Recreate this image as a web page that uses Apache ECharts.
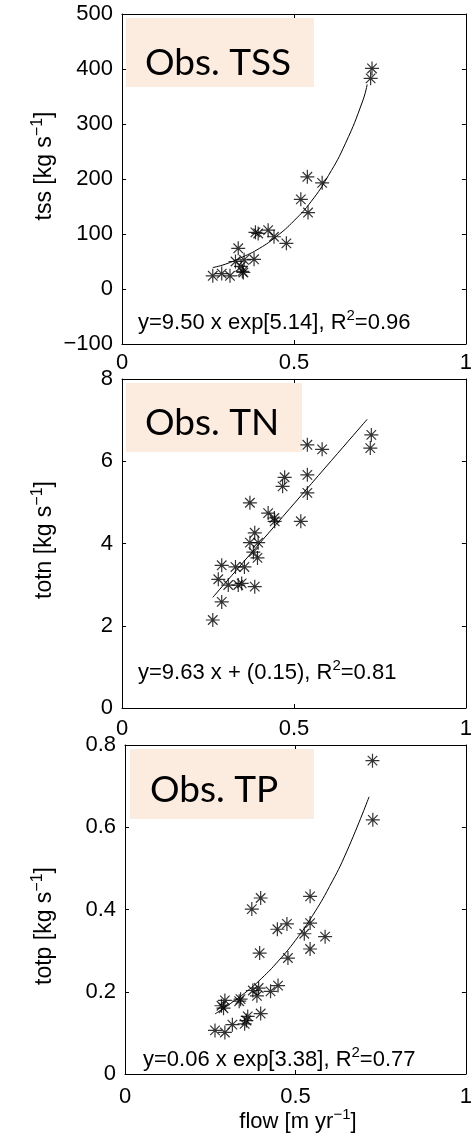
<!DOCTYPE html>
<html>
<head>
<meta charset="utf-8">
<script src="https://cdn.jsdelivr.net/npm/echarts@6/dist/echarts.min.js"></script>
<style>
html,body{margin:0;padding:0;background:#fff;}
#c{width:475px;height:1141px;}
</style>
</head>
<body>
<div id="c"></div>
<script>
// ---- data ----
const xTicks = [0, 0.5, 1];

const tssFlow = [0.727,0.723,0.539,0.582,0.520,0.541,0.388,0.396,0.425,0.442,0.478,0.338,0.330,0.355,0.384,0.346,0.353,0.350,0.264,0.290,0.314];
const tssLoad = [401,383,204,193,163,139,103,101,107,95,83,74,50,53,54,41,30,32,24,28,24];
const tssFitFlow = [0.264,0.30,0.35,0.40,0.45,0.50,0.55,0.60,0.65,0.70,0.713];
const tssFitLoad = [39,45,58,74,96,124,159,206,265,342,372];

const tnFlow = [0.725,0.722,0.539,0.582,0.539,0.473,0.467,0.539,0.372,0.425,0.443,0.444,0.520,0.386,0.372,0.396,0.382,0.394,0.290,0.330,0.356,0.280,0.309,0.338,0.348,0.386,0.290,0.264];
const tnLoad = [6.64,6.32,6.40,6.29,5.67,5.61,5.39,5.23,4.99,4.74,4.62,4.54,4.54,4.26,4.02,4.02,3.79,3.65,3.47,3.43,3.43,3.13,2.99,2.99,3.03,2.95,2.58,2.14];
const tnFitFlow = [0.264,0.713];
const tnFitLoad = [2.69,7.02];

const tpFlow = [0.726,0.727,0.398,0.372,0.543,0.543,0.475,0.447,0.526,0.587,0.543,0.395,0.478,0.449,0.427,0.392,0.375,0.387,0.339,0.335,0.293,0.283,0.289,0.398,0.360,0.356,0.351,0.315,0.264,0.293];
const tpLoad = [0.762,0.618,0.428,0.401,0.432,0.367,0.365,0.352,0.341,0.334,0.304,0.294,0.282,0.215,0.201,0.209,0.203,0.190,0.182,0.177,0.179,0.166,0.160,0.147,0.140,0.130,0.122,0.120,0.106,0.101];
const tpFitFlow = [0.264,0.30,0.35,0.40,0.45,0.50,0.55,0.60,0.65,0.716];
const tpFitLoad = [0.146,0.166,0.196,0.232,0.275,0.325,0.385,0.456,0.540,0.674];

const panelTitles = ['Obs. TSS', 'Obs. TN', 'Obs. TP'];
const yNames = ['tss', 'totn', 'totp'];
const equations = [
  ['y=9.50 x exp[5.14], R', '2', '=0.96'],
  ['y=9.63 x + (0.15), R', '2', '=0.81'],
  ['y=0.06 x exp[3.38], R', '2', '=0.77']
];
const yRanges = [[-100, 500, 100], [0, 8, 2], [0, 0.8, 0.2]];

// ---- chart ----
const zip = (a, b) => a.map((v, i) => [v, b[i]]);
const grids = [
  {left: 122, top: 14, width: 346, height: 330},
  {left: 122, top: 379, width: 346, height: 329},
  {left: 125, top: 745, width: 347, height: 329}
];
const labelMargins = [8, 10, 12];
const FONT = '"Liberation Sans", Arial, sans-serif';
const fmt = v => String(+(+v).toFixed(3)).replace('-', '\u2212');

const xAxis = [], yAxis = [], series = [];
grids.forEach((g, i) => {
  const common = () => ({
    axisLine: {show: true, onZero: false, lineStyle: {color: '#000', width: 1}},
    axisTick: {show: true, inside: true, length: 4, lineStyle: {color: '#000'}},
    splitLine: {show: false}
  });
  xAxis.push(Object.assign({gridIndex: i, type: 'value', min: 0, max: 1, interval: 0.5, position: 'bottom',
    axisLabel: {show: true, margin: labelMargins[i], color: '#000', fontSize: 22, fontFamily: FONT, formatter: fmt}}, common()));
  xAxis.push(Object.assign({gridIndex: i, type: 'value', min: 0, max: 1, interval: 0.5, position: 'top',
    axisLabel: {show: false}}, common()));
  const r = yRanges[i];
  yAxis.push(Object.assign({gridIndex: i, type: 'value', min: r[0], max: r[1], interval: r[2], position: 'left',
    axisLabel: {show: true, margin: 9, color: '#000', fontSize: 22, fontFamily: FONT, formatter: fmt}}, common()));
  yAxis.push(Object.assign({gridIndex: i, type: 'value', min: r[0], max: r[1], interval: r[2], position: 'right',
    axisLabel: {show: false}}, common()));
});

const star = 'path://M0,5L10,5M5,0L5,10M1.6,1.6L8.4,8.4M8.4,1.6L1.6,8.4';
const pts = [zip(tssFlow, tssLoad), zip(tnFlow, tnLoad), zip(tpFlow, tpLoad)];
const fits = [zip(tssFitFlow, tssFitLoad), zip(tnFitFlow, tnFitLoad), zip(tpFitFlow, tpFitLoad)];
for (let i = 0; i < 3; i++) {
  series.push({type: 'line', xAxisIndex: 2 * i, yAxisIndex: 2 * i, data: fits[i], smooth: true,
    showSymbol: false, lineStyle: {color: '#000', width: 1}, z: 3, silent: true});
  series.push({type: 'scatter', xAxisIndex: 2 * i, yAxisIndex: 2 * i, data: pts[i], symbol: star, symbolSize: 14,
    itemStyle: {color: 'rgba(0,0,0,0)', borderColor: '#000', borderWidth: 1.2}, z: 4, silent: true});
}

const boxes = [
  {x: 126, y: 18, w: 188, h: 69, tx: 145, ty: 63},
  {x: 126, y: 383, w: 176, h: 69, tx: 145, ty: 423},
  {x: 130, y: 749, w: 184, h: 70, tx: 150, ty: 790}
];
const eqPos = [[138, 308], [138, 658], [143, 1045]];
const yLabelPos = [[45, 166], [45, 540], [45, 926]];

const richMain = {a: {fontSize: 22, fontFamily: FONT, color: '#000', lineHeight: 30},
                  s: {fontSize: 15, fontFamily: FONT, color: '#000', lineHeight: 15, verticalAlign: 'top'}};
const richY = {a: {fontSize: 23, fontFamily: FONT, color: '#000', lineHeight: 31},
               s: {fontSize: 16, fontFamily: FONT, color: '#000', lineHeight: 16, verticalAlign: 'top'}};
const graphic = [];
boxes.forEach((b, i) => {
  graphic.push({type: 'rect', shape: {x: b.x, y: b.y, width: b.w, height: b.h}, style: {fill: '#fcebdf'}, z: 1});
  graphic.push({type: 'text', x: b.tx, y: b.ty, z: 2, style: {text: panelTitles[i], font: '37px Lato, sans-serif',
    fill: '#000', align: 'left', verticalAlign: 'middle'}});
  const e = equations[i];
  graphic.push({type: 'text', x: eqPos[i][0], y: eqPos[i][1], z: 5, style: {
    text: '{a|' + e[0] + '}{s|' + e[1] + '}{a|' + e[2] + '}', rich: richMain, align: 'left', verticalAlign: 'top'}});
  graphic.push({type: 'text', x: yLabelPos[i][0], y: yLabelPos[i][1], rotation: Math.PI / 2, z: 5, style: {
    text: '{a|' + yNames[i] + ' [kg s}{s|\u22121}{a|]}', rich: richY, align: 'center', verticalAlign: 'middle'}});
});
graphic.push({type: 'text', x: 298, y: 1122, z: 5, style: {
  text: '{a|flow [m yr}{s|\u22121}{a|]}', rich: richMain, align: 'center', verticalAlign: 'middle'}});

const chart = echarts.init(document.getElementById('c'), null, {renderer: 'canvas'});
chart.setOption({
  animation: false,
  backgroundColor: '#fff',
  grid: grids,
  xAxis: xAxis,
  yAxis: yAxis,
  series: series,
  graphic: graphic
});
</script>
</body>
</html>
